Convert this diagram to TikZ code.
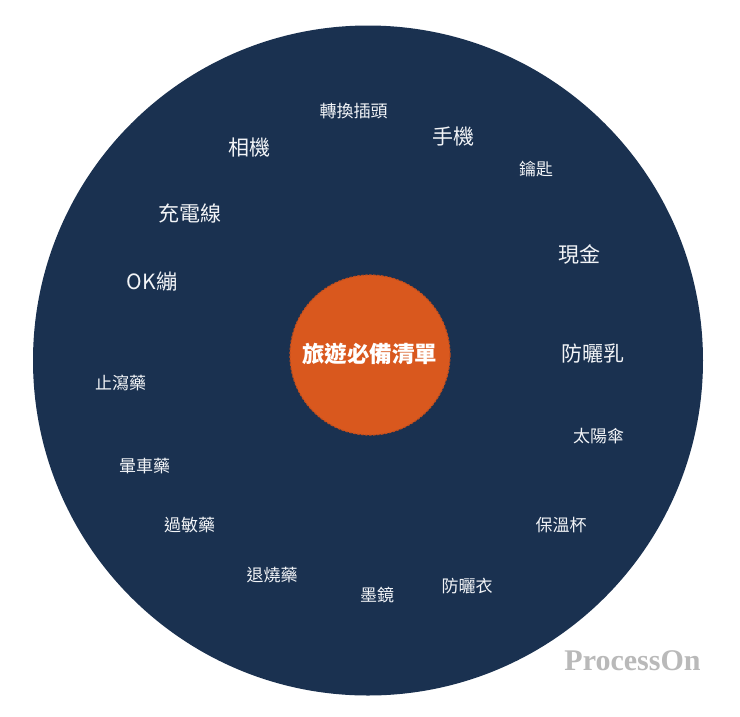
\documentclass[tikz,border=0pt]{standalone}
\usepackage{fontspec}
\newfontfamily\cjk{Noto Sans CJK TC}
\newfontfamily\wmfont{Liberation Serif}
\definecolor{navy}{HTML}{1A3150}
\definecolor{orangec}{HTML}{D9581E}
\definecolor{orangeedge}{HTML}{C24E1D}
\definecolor{txt}{HTML}{F2F4F7}
\definecolor{wmgray}{HTML}{B9B9B9}
\begin{document}
\begin{tikzpicture}[x=1pt,y=-1pt,
  big/.style={inner sep=0pt,text=txt,font=\cjk\fontsize{21}{24}\selectfont},
  small/.style={inner sep=0pt,text=txt,font=\cjk\fontsize{17}{20}\selectfont},
  title/.style={inner sep=0pt,text=white,font=\cjk\bfseries\fontsize{22.5}{26}\selectfont}]
\useasboundingbox (0,0) rectangle (740,716);
\fill[white] (0,0) rectangle (740,716);
\node[circle,fill=navy,minimum size=670pt,inner sep=0pt] (outer) at (368,360.5) {};
\node[circle,fill=orangec,draw=orangeedge,line width=1.2pt,dash pattern=on 2.5pt off 1.5pt,minimum size=160pt,inner sep=0pt] (hub) at (370,355) {};
\node[title] (t) at (369.5,354) {旅遊必備清單};
\node[small] (n1) at (353.5,111) {轉換插頭};
\node[big] (n2) at (249.5,148) {相機};
\node[big] (n3) at (453.5,137) {手機};
\node[small] (n4) at (536,169.5) {鑰匙};
\node[big] (n5) at (190,214) {充電線};
\node[big] (n6) at (579.5,254) {現金};
\node[big] (n7) at (152,282) {OK繃};
\node[big] (n8) at (593,354) {防曬乳};
\node[small] (n9) at (120.5,383) {止瀉藥};
\node[small] (n10) at (598.5,436.5) {太陽傘};
\node[small] (n11) at (144.5,466.5) {暈車藥};
\node[small] (n12) at (189.5,525) {過敏藥};
\node[small] (n13) at (561,525) {保溫杯};
\node[small] (n14) at (272,575) {退燒藥};
\node[small] (n15) at (467,586) {防曬衣};
\node[small] (n16) at (377,595) {墨鏡};
\node[inner sep=0pt,text=wmgray,font=\wmfont\bfseries\fontsize{30}{34}\selectfont] (wm) at (632.5,661) {ProcessOn};
\end{tikzpicture}
\end{document}
